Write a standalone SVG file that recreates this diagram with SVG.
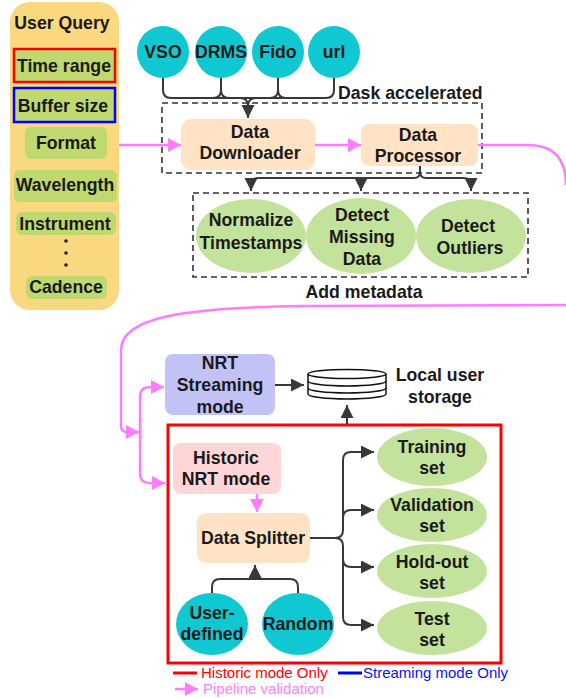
<svg xmlns="http://www.w3.org/2000/svg" width="566" height="698" viewBox="0 0 566 698">
<defs>
<style>
.t{font-family:"Liberation Sans",Arial,sans-serif;font-weight:bold;font-size:17.7px;fill:#1a1a1a;text-anchor:middle}
.lg{font-family:"Liberation Sans",Arial,sans-serif;font-size:15px}
.dk{stroke:#383838;stroke-width:2;fill:none}
.pk{stroke:#FF7BFF;stroke-width:2.5;fill:none}
.dash{stroke:#333;stroke-width:1.6;stroke-dasharray:6,4;fill:none}
.item{fill:#BFD870}
.cyan{fill:#10C8D2}
.peach{fill:#FFE3C4}
.lgreen{fill:#C3E39D}
</style>
<marker id="ad" markerUnits="userSpaceOnUse" markerWidth="14" markerHeight="14" refX="13" refY="6.5" orient="auto-start-reverse" viewBox="0 0 14 14">
<path d="M0,0 L13,6.5 L0,13 z" fill="#383838"/>
</marker>
<marker id="ap" markerUnits="userSpaceOnUse" markerWidth="14" markerHeight="15" refX="13" refY="7" orient="auto-start-reverse" viewBox="0 0 14 15">
<path d="M0,0 L13,7 L0,14 z" fill="#FF7BFF"/>
</marker>
</defs>
<rect width="566" height="698" fill="#ffffff"/>

<g id="user-query">
<rect x="10" y="2" width="109" height="308" rx="20" fill="#FAD87F"/>
<text class="t" x="62" y="29">User Query</text>
<g id="time-range"><rect x="14" y="49" width="101" height="33" class="item" stroke="#FF0000" stroke-width="2.5"/><text class="t" x="64" y="72">Time range</text></g>
<g id="buffer-size"><rect x="14" y="88" width="101" height="34" class="item" stroke="#0000FF" stroke-width="2.5"/><text class="t" x="63" y="112">Buffer size</text></g>
<g id="format"><rect x="25" y="127" width="82" height="32" rx="6" class="item"/><text class="t" x="66" y="149">Format</text></g>
<g id="wavelength"><rect x="14" y="170" width="103" height="32" rx="6" class="item"/><text class="t" x="65" y="191">Wavelength</text></g>
<g id="instrument"><rect x="16" y="212" width="100" height="23" rx="6" class="item"/><text class="t" x="65" y="230">Instrument</text></g>
<g id="dots"><circle cx="66" cy="241" r="1.8" fill="#222"/><circle cx="66" cy="253" r="1.8" fill="#222"/><circle cx="66" cy="265" r="1.8" fill="#222"/></g>
<g id="cadence"><rect x="26" y="276" width="81" height="23" rx="6" class="item"/><text class="t" x="66" y="293">Cadence</text></g>
</g>

<g id="vso"><circle cx="163" cy="52" r="26" class="cyan"/><text class="t" x="163" y="58">VSO</text></g>
<g id="drms"><circle cx="221" cy="52" r="26" class="cyan"/><text class="t" x="221" y="58">DRMS</text></g>
<g id="fido"><circle cx="278" cy="52" r="26" class="cyan"/><text class="t" x="278" y="58">Fido</text></g>
<g id="url"><circle cx="334" cy="52" r="26" class="cyan"/><text class="t" x="334" y="58">url</text></g>

<g id="dask-box">
<rect x="162" y="103" width="320" height="70" class="dash"/>
<text class="t" x="338" y="99" style="text-anchor:start">Dask accelerated</text>
</g>
<g id="data-downloader"><rect x="181" y="119" width="134" height="51" rx="10" class="peach"/><text class="t" x="250" y="138">Data</text><text class="t" x="250" y="159">Downloader</text></g>
<g id="data-processor"><rect x="361" y="124" width="117" height="42" rx="8" class="peach"/><text class="t" x="418" y="141">Data</text><text class="t" x="418" y="162">Processor</text></g>

<g id="metadata-box">
<rect x="193" y="193" width="335" height="84" class="dash"/>
<text class="t" x="364" y="298">Add metadata</text>
</g>
<g id="normalize"><ellipse cx="251" cy="236" rx="55" ry="37" class="lgreen"/><text class="t" x="251" y="226">Normalize</text><text class="t" x="251" y="249">Timestamps</text></g>
<g id="missing"><ellipse cx="361" cy="236" rx="55" ry="38" class="lgreen"/><text class="t" x="362" y="221">Detect</text><text class="t" x="362" y="243">Missing</text><text class="t" x="362" y="265">Data</text></g>
<g id="outliers"><ellipse cx="471" cy="236" rx="55" ry="37" class="lgreen"/><text class="t" x="468" y="232">Detect</text><text class="t" x="470" y="254">Outliers</text></g>

<g id="nrt-streaming"><rect x="165" y="354" width="110" height="61" rx="8" fill="#C2C2F7"/><text class="t" x="220" y="369">NRT</text><text class="t" x="220" y="391">Streaming</text><text class="t" x="220" y="413">mode</text></g>

<g id="storage">
<path d="M308,374 V394 A39,5 0 0 0 386,394 V374" fill="#fff" stroke="#111" stroke-width="1.5"/>
<ellipse cx="347" cy="374" rx="39" ry="4.5" fill="#fff" stroke="#111" stroke-width="1.5"/>
<path d="M308,381 A39,5 0 0 0 386,381 M308,388 A39,5 0 0 0 386,388" fill="none" stroke="#111" stroke-width="1.5"/>
<text class="t" x="440" y="381">Local user</text><text class="t" x="440" y="403">storage</text>
</g>

<g id="historic-box"><rect x="168" y="425" width="333" height="238" fill="none" stroke="#FF0000" stroke-width="3"/></g>
<g id="historic-nrt"><rect x="173" y="443" width="108" height="51" rx="8" fill="#FFD6D8"/><text class="t" x="226" y="464">Historic</text><text class="t" x="226" y="485">NRT mode</text></g>
<g id="data-splitter"><rect x="197" y="513" width="113" height="50" rx="9" class="peach"/><text class="t" x="253" y="544">Data Splitter</text></g>
<g id="user-defined"><ellipse cx="212" cy="624" rx="36" ry="31" class="cyan"/><text class="t" x="212" y="619">User-</text><text class="t" x="212" y="640">defined</text></g>
<g id="random"><ellipse cx="298" cy="624" rx="36" ry="31" class="cyan"/><text class="t" x="298" y="630">Random</text></g>
<g id="training"><ellipse cx="432" cy="457" rx="55" ry="29" class="lgreen"/><text class="t" x="432" y="453">Training</text><text class="t" x="432" y="474">set</text></g>
<g id="validation"><ellipse cx="432" cy="515" rx="55" ry="27" class="lgreen"/><text class="t" x="432" y="511">Validation</text><text class="t" x="432" y="532">set</text></g>
<g id="holdout"><ellipse cx="432" cy="571" rx="55" ry="27" class="lgreen"/><text class="t" x="432" y="568">Hold-out</text><text class="t" x="432" y="589">set</text></g>
<g id="test"><ellipse cx="432" cy="628" rx="55" ry="27" class="lgreen"/><text class="t" x="432" y="625">Test</text><text class="t" x="432" y="646">set</text></g>

<g id="connectors">
<path class="dk" d="M163,78 V90 Q163,98 171,98 H326 Q334,98 334,90 V78"/>
<path class="dk" d="M213,98 Q221,98 221,90 V78 M221,90 Q221,98 229,98"/>
<path class="dk" d="M270,98 Q278,98 278,90 V78 M278,90 Q278,98 286,98"/>
<path class="dk" d="M240,98 Q248,98 248,106 M256,98 Q248,98 248,106"/>
<path class="dk" d="M248,104 V118" marker-end="url(#ad)"/>
<path class="dk" d="M420,166 V172 Q420,178 414,178 H259 Q251,178 251,184 V191" marker-end="url(#ad)"/>
<path class="dk" d="M420,172 Q420,178 426,178 H463 Q471,178 471,184 V191" marker-end="url(#ad)"/>
<path class="dk" d="M361,178 V191" marker-end="url(#ad)"/>
<path class="dk" d="M275,385 H304" marker-end="url(#ad)"/>
<path class="dk" d="M347,424 V405" marker-end="url(#ad)"/>
<path class="dk" d="M212,593 V587 Q212,579 220,579 H290 Q298,579 298,587 V593"/>
<path class="dk" d="M255,579 V565" marker-end="url(#ad)"/>
<path class="dk" d="M310,538 H335 Q343,538 343,530 V460 Q343,452 351,452 H374" marker-end="url(#ad)"/>
<path class="dk" d="M343,518 Q343,510 351,510 H374" marker-end="url(#ad)"/>
<path class="dk" d="M335,538 Q343,538 343,546 V617 Q343,625 351,625 H374" marker-end="url(#ad)"/>
<path class="dk" d="M343,559 Q343,567 351,567 H374" marker-end="url(#ad)"/>
<path class="pk" d="M119,145 H181" marker-end="url(#ap)"/>
<path class="pk" d="M315,145 H361" marker-end="url(#ap)"/>
<path class="pk" d="M478,145 H528 Q566,145 566,185"/>
<path class="pk" d="M566,305 L300,306 C180,308 121,318 121,350 V426 Q121,432 127,432 H139" marker-end="url(#ap)"/>
<path class="pk" d="M164,387 H150 Q140,387 140,397 V473 Q140,483 150,483 H165" marker-start="url(#ap)" marker-end="url(#ap)"/>
<path class="pk" d="M257,494 V512" marker-end="url(#ap)"/>
</g>

<g id="legend">
<path d="M173,673 H197" stroke="#FF0000" stroke-width="3"/>
<text class="lg" x="201" y="678" fill="#FF0000">Historic mode Only</text>
<path d="M338,673 H362" stroke="#0000FF" stroke-width="3"/>
<text class="lg" x="363" y="678" fill="#1010FF">Streaming mode Only</text>
<path class="pk" d="M175,689 H198" marker-end="url(#ap)"/>
<text class="lg" x="203" y="694" fill="#FF80FF">Pipeline validation</text>
</g>
</svg>
